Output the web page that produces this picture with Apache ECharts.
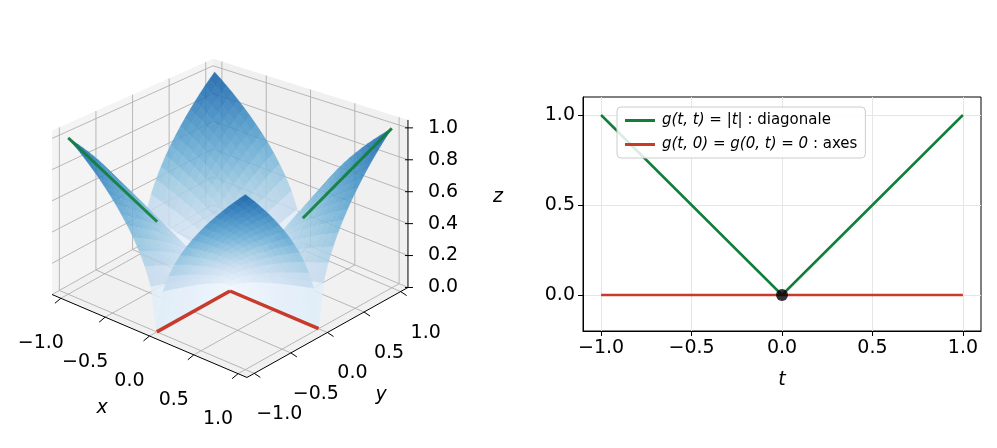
<!DOCTYPE html>
<html><head><meta charset="utf-8">
<script src="https://cdn.jsdelivr.net/npm/echarts@6/dist/echarts.min.js"></script>
<style>html,body{margin:0;background:#fff}#c{width:997px;height:448px}</style>
</head><body><div id="c"></div>
<script>
// données
var tValues = [-1, 0, 1];
var diagValues = [1, 0, 1];          // g(t,t) = |t|
var axisT = [-1, 1];
var axisValues = [0, 0];             // g(t,0) = g(0,t) = 0
var xTicks = [-1, -0.5, 0, 0.5, 1];
var yTicks = [0, 0.5, 1];
var zTicks = [0, 0.2, 0.4, 0.6, 0.8, 1.0];
var nSurf = 30;
function g(x, y) { return Math.sqrt(Math.abs(x * y)); }

var GREEN = '#0f7f3a', RED = '#c73a2c';
var FONT = 'DejaVu Sans';
function fmt(v, d) { var s = v.toFixed(d); return v < 0 ? '\u2212' + s.slice(1) : s; }

// projection 3D -> pixels (vue matplotlib, perspective approchée)
var O = [230, 291], X = [88.6, 37.7], Y = [73.2, -40.9], Z = [0, -164];
function depth(x, y, z) { return 0.77*x - 0.64*y + 0.5*z; }
function P(x, y, z) {
  var f = 1 + 0.075 * (0.77*x - 0.64*y - 0.5);
  return [O[0] + X[0]*x + Y[0]*y, O[1] + X[1]*x + Y[1]*y + Z[1]*z*f];
}
var L = 1.1, ZT = 1.05;

var shapes = [];
function poly(pts, style) { shapes.push({t: 'polygon', pts: pts, style: style}); }
function line(pts, style) { shapes.push({t: 'polyline', pts: pts, style: style}); }
function text(p, s, style) { shapes.push({t: 'text', p: p, s: s, style: style}); }

// panneaux
poly([P(-L,-L,0),P(L,-L,0),P(L,L,0),P(-L,L,0)], {fill: 'rgba(225,225,225,0.45)'});
poly([P(-L,-L,0),P(-L,L,0),P(-L,L,ZT),P(-L,-L,ZT)], {fill: 'rgba(235,235,235,0.55)'});
poly([P(-L,L,0),P(L,L,0),P(L,L,ZT),P(-L,L,ZT)], {fill: 'rgba(225,225,225,0.5)'});
var gs = {stroke: 'rgba(176,176,176,0.9)', lineWidth: 1, fill: null};
xTicks.forEach(function (v) {
  line([P(v,-L,0),P(v,L,0),P(v,L,ZT)], gs);
  line([P(-L,v,0),P(L,v,0)], gs);
  line([P(-L,v,0),P(-L,v,ZT)], gs);
});
zTicks.forEach(function (v) { line([P(-L,-L,v),P(-L,L,v),P(L,L,v)], gs); });

// axes noirs + graduations
var ks = {stroke: '#000', lineWidth: 1, fill: null};
line([P(-L,-L,0),P(L,-L,0)], ks);
line([P(L,-L,0),P(L,L,0)], ks);
line([P(L,L,0),P(L,L,ZT)], ks);
var ts = {fill: '#000', font: '19px "' + FONT + '"', align: 'center', verticalAlign: 'middle'};
xTicks.forEach(function (v) {
  var a = P(v,-L,0); line([a,[a[0]-6,a[1]+5]], ks);
  text([a[0]-20,a[1]+45], fmt(v,1), ts);
  var b = P(L,v,0); line([b,[b[0]+6,b[1]+4]], ks);
  text([b[0]+25,b[1]+41], fmt(v,1), ts);
});
zTicks.forEach(function (v) {
  var a = P(L,L,v); line([[a[0]-3,a[1]],[a[0]+5,a[1]]], ks);
  text([a[0]+20,a[1]], v.toFixed(1), Object.assign({}, ts, {align: 'left'}));
});
var its = Object.assign({}, ts, {font: 'italic 19px "' + FONT + '"'});
text([102,408], 'x', its); text([381,395], 'y', its); text([498,197], 'z', its);

// lignes arrière (sous la surface)
var rl = {stroke: RED, lineWidth: 3.5, fill: null, opacity: 0.35};
line([P(0,0,0),P(-1,0,0)], rl); line([P(0,0,0),P(0,1,0)], rl);

// surface
var blues = [[247,251,255],[222,235,247],[198,219,239],[158,202,225],[107,174,214],[66,146,198],[33,113,181],[8,81,156],[8,48,107]];
function cmap(v) {
  v = Math.max(0, Math.min(1, v)) * (blues.length - 1);
  var i = Math.min(blues.length - 2, Math.floor(v)), f = v - i;
  var c = blues[i].map(function (a, k) { return Math.round(a + (blues[i+1][k] - a) * f); });
  return 'rgba(' + c.join(',') + ',0.85)';
}
var quads = [];
for (var i = 0; i < nSurf; i++) for (var j = 0; j < nSurf; j++) {
  var x0 = -1 + 2*i/nSurf, x1 = -1 + 2*(i+1)/nSurf, y0 = -1 + 2*j/nSurf, y1 = -1 + 2*(j+1)/nSurf;
  var z00 = g(x0,y0), z10 = g(x1,y0), z11 = g(x1,y1), z01 = g(x0,y1);
  var zc = (z00+z10+z11+z01)/4;
  quads.push({d: depth((x0+x1)/2,(y0+y1)/2,zc), pts: [P(x0,y0,z00),P(x1,y0,z10),P(x1,y1,z11),P(x0,y1,z01)], c: cmap(zc*0.85)});
}
quads.sort(function (a, b) { return a.d - b.d; });
quads.forEach(function (q) { poly(q.pts, {fill: q.c, stroke: q.c, lineWidth: 0.3}); });

// lignes avant
var rf = {stroke: RED, lineWidth: 3.5, fill: null};
line([P(0,0,0),P(1,0,0)], rf); line([P(0,0,0),P(0,-1,0)], rf);
var gl = {stroke: GREEN, lineWidth: 3, fill: null, opacity: 0.9};
line([P(0.45,0.45,0.45),P(1,1,1)], gl); line([P(-0.45,-0.45,0.45),P(-1,-1,1)], gl);

var chart = echarts.init(document.getElementById('c'));
function toPts(api, pts) { return pts.map(function (p) { return api.coord(p); }); }
var lineIcon = 'path://M0,0L30,0L30,3L0,3Z';
chart.setOption({
  animation: false,
  textStyle: {fontFamily: FONT},
  grid: [
    {left: 0, top: 0, width: 997, height: 448, show: false},
    {left: 583, right: 16, top: 97, bottom: 117, show: true, borderColor: '#000', borderWidth: 1}
  ],
  xAxis: [
    {gridIndex: 0, type: 'value', min: 0, max: 997, show: false},
    {gridIndex: 1, type: 'value', min: -1.1, max: 1.1,
     name: 't', nameLocation: 'middle', nameGap: 40,
     nameTextStyle: {fontStyle: 'italic', fontSize: 19, color: '#000'},
     axisLine: {onZero: false, lineStyle: {color: '#000'}},
     axisTick: {show: true, length: 5, lineStyle: {color: '#000'}, customValues: xTicks},
     axisLabel: {fontSize: 19, color: '#000', margin: 8, customValues: xTicks, formatter: function (v) { return fmt(v,1); }},
     splitLine: {show: true, lineStyle: {color: '#e6e6e6'}}}
  ],
  yAxis: [
    {gridIndex: 0, type: 'value', min: 0, max: 448, inverse: true, show: false},
    {gridIndex: 1, type: 'value', min: -0.2, max: 1.1,
     axisLine: {show: true, onZero: false, lineStyle: {color: '#000'}},
     axisTick: {show: true, length: 5, lineStyle: {color: '#000'}, customValues: yTicks},
     axisLabel: {fontSize: 19, color: '#000', margin: 8, customValues: yTicks, formatter: function (v) { return fmt(v,1); }},
     splitLine: {show: true, lineStyle: {color: '#e6e6e6'}}}
  ],
  legend: {
    left: 617, top: 107, orient: 'vertical', itemGap: 9, itemWidth: 34, itemHeight: 3,
    backgroundColor: 'rgba(255,255,255,0.85)', borderColor: '#cccccc', borderWidth: 1, borderRadius: 4,
    padding: [6, 8],
    data: [{name: 'diag', icon: lineIcon}, {name: 'axes', icon: lineIcon}],
    formatter: function (n) {
      return n === 'diag' ? '{i|g(t, t) = |t|} : diagonale' : '{i|g(t, 0) = g(0, t) = 0} : axes';
    },
    textStyle: {fontSize: 15, color: '#000', rich: {i: {fontStyle: 'italic', fontSize: 15}}}
  },
  series: [
    {type: 'custom', xAxisIndex: 0, yAxisIndex: 0, silent: true, clip: false,
     data: shapes.map(function (s, k) { return [k]; }),
     renderItem: function (params, api) {
       var s = shapes[api.value(0)];
       if (s.t === 'text') {
         var c = api.coord(s.p);
         return {type: 'text', x: c[0], y: c[1], style: Object.assign({text: s.s}, s.style)};
       }
       return {type: s.t, shape: {points: toPts(api, s.pts)}, style: s.style};
     }},
    {name: 'diag', type: 'line', xAxisIndex: 1, yAxisIndex: 1, symbol: 'none',
     data: tValues.map(function (t, k) { return [t, diagValues[k]]; }),
     lineStyle: {color: GREEN, width: 2.5}, itemStyle: {color: GREEN}},
    {name: 'axes', type: 'line', xAxisIndex: 1, yAxisIndex: 1, symbol: 'none',
     data: axisT.map(function (t, k) { return [t, axisValues[k]]; }),
     lineStyle: {color: RED, width: 2.5}, itemStyle: {color: RED}},
    {type: 'scatter', xAxisIndex: 1, yAxisIndex: 1, symbolSize: 12, data: [[0, 0]],
     itemStyle: {color: '#000'}, z: 5}
  ]
});
</script></body></html>
